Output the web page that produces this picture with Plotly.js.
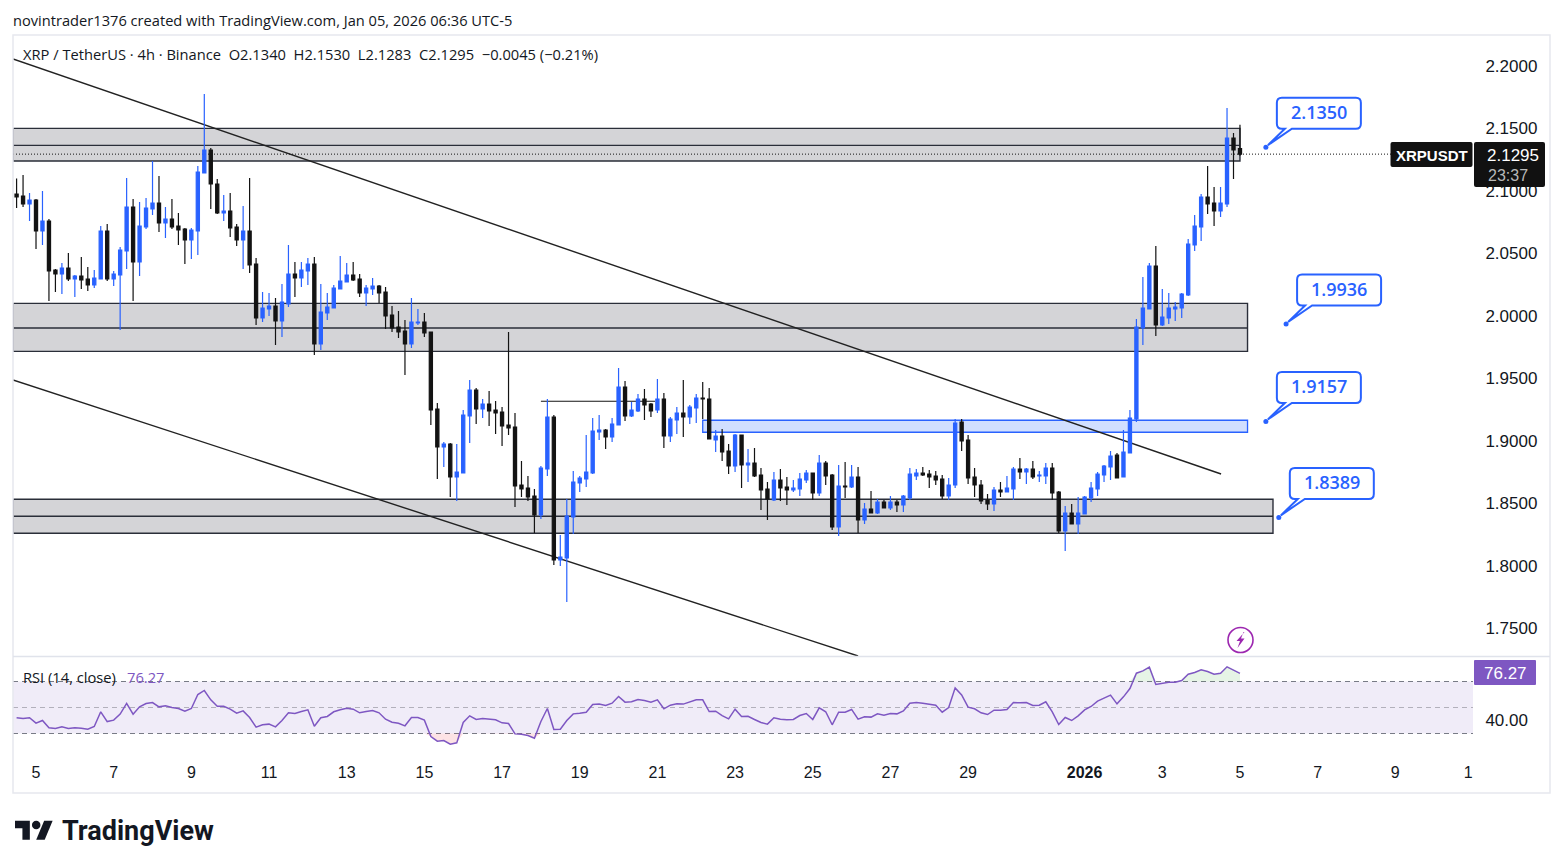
<!DOCTYPE html>
<html><head><meta charset="utf-8">
<script src="https://cdn.plot.ly/plotly-3.0.1.min.js"></script>
<style>html,body{margin:0;padding:0;background:#fff}#c{width:1563px;height:868px}</style>
</head><body><div id="c"></div>
<script>
const firstCandle = Date.UTC(2025,11,4,12,0);
const opens = [
2.0976,2.0960,2.0896,2.0928,2.0680,2.0760,2.0368,2.0336,2.0384,2.0296,
2.0320,2.0296,2.0248,2.0296,2.0680,2.0296,2.0328,2.0520,2.0872,2.0432,
2.0712,2.0856,2.0904,2.0744,2.0776,2.0720,2.0696,2.0608,2.0680,2.1144,
2.1328,2.1056,2.0824,2.0840,2.0712,2.0608,2.0680,2.0416,1.9984,2.0056,
2.0080,1.9960,2.0096,2.0336,2.0304,2.0360,2.0416,1.9776,2.0024,2.0064,
2.0216,2.0272,2.0328,2.0296,2.0184,2.0216,2.0240,2.0192,2.0008,1.9912,
1.9880,1.9776,1.9944,1.9952,1.9872,1.9256,1.8952,1.8976,1.8712,1.8744,
1.9200,1.9408,1.9256,1.9296,1.9248,1.9232,1.9128,1.9112,1.8648,1.8624,
1.8560,1.8408,1.8776,1.9192,1.8048,1.8064,1.8392,1.8664,1.8696,1.8744,
1.9072,1.9088,1.9032,1.9128,1.9432,1.9200,1.9240,1.9336,1.9296,1.9248,
1.9336,1.9040,1.9168,1.9224,1.9192,1.9264,1.9344,1.9336,1.9008,1.9040,
1.8920,1.8800,1.9048,1.8808,1.8824,1.8728,1.8616,1.8528,1.8688,1.8632,
1.8608,1.8616,1.8688,1.8744,1.8584,1.8824,1.8728,1.8312,1.8640,1.8632,
1.8712,1.8368,1.8456,1.8424,1.8512,1.8464,1.8512,1.8488,1.8544,1.8720,
1.8744,1.8736,1.8720,1.8696,1.8560,1.8648,1.9152,1.9008,1.8712,1.8648,
1.8528,1.8496,1.8608,1.8592,1.8616,1.8776,1.8752,1.8776,1.8720,1.8720,
1.8784,1.8592,1.8280,1.8424,1.8336,1.8416,1.8544,1.8616,1.8728,1.8792,
1.8888,1.8712,1.8904,1.9176,1.9904,2.0056,2.0400,1.9928,1.9984,2.0056,
2.0064,2.0168,2.0568,2.0712,2.0952,2.0904,2.0840,2.0896,2.1424,2.1340];
const highs = [
2.1101,2.1128,2.0984,2.0936,2.1000,2.0776,2.0376,2.0424,2.0504,2.0328,
2.0472,2.0392,2.0368,2.0720,2.0736,2.0360,2.0552,2.1104,2.0936,2.0912,
2.0944,2.1240,2.1120,2.0872,2.0936,2.0824,2.0704,2.0704,2.1200,2.1776,
2.1344,2.1096,2.0968,2.0984,2.0736,2.0880,2.1104,2.0464,2.0192,2.0184,
2.0144,2.0256,2.0568,2.0432,2.0432,2.0464,2.0472,2.0256,2.0184,2.0248,
2.0480,2.0424,2.0432,2.0336,2.0248,2.0304,2.0248,2.0232,2.0080,2.0040,
1.9968,2.0144,2.0056,2.0024,1.9872,1.9304,1.8992,1.8984,1.8976,1.9248,
1.9488,1.9424,1.9336,1.9400,1.9320,1.9272,1.9872,1.9224,1.8840,1.8720,
1.8616,1.8800,1.9336,1.9208,1.8248,1.8536,1.8760,1.8720,1.9048,1.9184,
1.9208,1.9096,1.9184,1.9584,1.9480,1.9312,1.9376,1.9416,1.9304,1.9496,
1.9384,1.9192,1.9272,1.9488,1.9288,1.9376,1.9472,1.9424,1.9088,1.9096,
1.8976,1.9056,1.9048,1.8936,1.8944,1.8784,1.8672,1.8752,1.8776,1.8712,
1.8688,1.8744,1.8768,1.8744,1.8888,1.8840,1.8736,1.8808,1.8832,1.8808,
1.8792,1.8504,1.8600,1.8536,1.8528,1.8560,1.8528,1.8568,1.8784,1.8776,
1.8792,1.8768,1.8760,1.8728,1.8704,1.9176,1.9176,1.9048,1.8784,1.8688,
1.8576,1.8632,1.8672,1.8720,1.8792,1.8864,1.8784,1.8840,1.8760,1.8824,
1.8824,1.8600,1.8480,1.8496,1.8552,1.8560,1.8672,1.8752,1.8808,1.8920,
1.8904,1.9088,1.9248,1.9976,2.0312,2.0424,2.0560,2.0216,2.0184,2.0112,
2.0184,2.0616,2.0808,2.0976,2.1200,2.1032,2.1032,2.1664,2.1464,2.1530];
const lows = [
2.0864,2.0872,2.0760,2.0536,2.0568,2.0120,2.0192,2.0176,2.0280,2.0152,
2.0216,2.0200,2.0224,2.0296,2.0280,2.0240,1.9888,2.0376,2.0120,2.0320,
2.0696,2.0808,2.0672,2.0624,2.0696,2.0568,2.0416,2.0456,2.0488,2.1144,
2.0856,2.0816,2.0760,2.0632,2.0560,2.0376,2.0344,1.9928,1.9952,2.0000,
1.9768,1.9832,2.0072,2.0152,2.0232,2.0248,1.9688,1.9728,1.9968,2.0064,
2.0216,2.0272,2.0280,2.0152,2.0080,2.0168,2.0104,1.9896,1.9872,1.9824,
1.9528,1.9744,1.9928,1.9832,1.9128,1.8696,1.8792,1.8552,1.8520,1.8744,
1.8984,1.9136,1.9184,1.9120,1.9056,1.8960,1.9048,1.8472,1.8552,1.8520,
1.8264,1.8376,1.8720,1.8008,1.8000,1.7712,1.8256,1.8592,1.8632,1.8736,
1.9008,1.8936,1.8992,1.9128,1.9160,1.9192,1.9232,1.9168,1.9192,1.9224,
1.8944,1.8992,1.9056,1.9032,1.9136,1.9144,1.9176,1.9016,1.8912,1.8840,
1.8736,1.8752,1.8624,1.8672,1.8712,1.8448,1.8368,1.8520,1.8520,1.8488,
1.8592,1.8560,1.8664,1.8528,1.8560,1.8648,1.8288,1.8240,1.8544,1.8624,
1.8264,1.8336,1.8424,1.8416,1.8464,1.8448,1.8432,1.8432,1.8528,1.8688,
1.8720,1.8624,1.8648,1.8536,1.8528,1.8624,1.8920,1.8656,1.8552,1.8496,
1.8448,1.8440,1.8552,1.8592,1.8528,1.8696,1.8656,1.8696,1.8672,1.8656,
1.8528,1.8264,1.8120,1.8336,1.8256,1.8416,1.8512,1.8560,1.8672,1.8688,
1.8704,1.8712,1.8904,1.9152,1.9768,2.0056,1.9840,1.9920,1.9936,1.9960,
1.9984,2.0160,2.0520,2.0600,2.0816,2.0720,2.0792,2.0872,2.1096,2.1283];
const closes = [
2.0952,2.0896,2.0928,2.0680,2.0760,2.0360,2.0336,2.0384,2.0296,2.0320,
2.0288,2.0248,2.0304,2.0680,2.0296,2.0336,2.0528,2.0872,2.0432,2.0720,
2.0864,2.0904,2.0744,2.0776,2.0712,2.0688,2.0608,2.0688,2.1152,2.1328,
2.1056,2.0824,2.0840,2.0704,2.0608,2.0680,2.0408,1.9984,2.0064,2.0080,
1.9960,2.0112,2.0336,2.0304,2.0368,2.0416,1.9776,2.0032,2.0072,2.0224,
2.0280,2.0328,2.0288,2.0184,2.0224,2.0240,2.0184,2.0000,1.9904,1.9872,
1.9776,1.9952,1.9952,1.9864,1.9248,1.8952,1.8976,1.8712,1.8752,1.9208,
1.9408,1.9256,1.9296,1.9240,1.9224,1.9120,1.9104,1.8640,1.8616,1.8552,
1.8408,1.8784,1.9192,1.8048,1.8072,1.8400,1.8672,1.8704,1.8752,1.9080,
1.9088,1.9032,1.9136,1.9432,1.9200,1.9248,1.9336,1.9288,1.9240,1.9336,
1.9040,1.9176,1.9224,1.9192,1.9272,1.9344,1.9336,1.9016,1.9040,1.8912,
1.8800,1.9048,1.8808,1.8824,1.8720,1.8608,1.8536,1.8688,1.8624,1.8608,
1.8624,1.8696,1.8744,1.8584,1.8824,1.8720,1.8312,1.8640,1.8632,1.8712,
1.8368,1.8456,1.8424,1.8512,1.8464,1.8512,1.8488,1.8560,1.8736,1.8744,
1.8728,1.8712,1.8688,1.8560,1.8648,1.9144,1.9000,1.8704,1.8648,1.8520,
1.8496,1.8608,1.8592,1.8624,1.8776,1.8752,1.8776,1.8712,1.8728,1.8784,
1.8584,1.8280,1.8424,1.8336,1.8424,1.8552,1.8624,1.8736,1.8800,1.8880,
1.8704,1.8912,1.9184,1.9912,2.0064,2.0400,1.9928,1.9992,2.0064,2.0072,
2.0176,2.0576,2.0720,2.0952,2.0896,2.0840,2.0904,2.1424,2.1328,2.1295];
const rsiValues = [
42.1,41.5,42.1,38,40,34.4,33.8,35.1,33.8,34.4,34.1,33.3,35.4,46.7,39.2,40.3,44.9,53.1,44.9,50.5,
53.1,53.8,50.5,51.3,50,49.2,47.2,49.2,60,63.1,55.9,51,51,48.7,45.6,47.4,42.3,34.9,36.7,37.2,
35.1,40,45.9,45.4,46.9,48.2,35.6,42.1,43.1,46.7,48.2,49.5,48.7,45.9,46.9,47.7,45.9,41,38.7,37.9,
35.9,42.3,42.3,40.3,27.7,24.1,24.6,21.8,22.8,38.5,43.6,40.8,41.5,41,40.5,38.2,37.7,29.7,29.5,28.5,
26.4,39.2,49.2,33.1,33.3,40,45.1,45.6,46.4,52.3,52.6,51.5,53.3,58.5,54.1,54.4,56.2,55.4,54.1,55.9,
49,51.8,52.8,52.6,54.4,55.9,55.9,46.9,47.2,43.8,41.3,48.7,43.1,43.3,40.8,38.5,37.2,42.1,41,40.5,
40.8,43.8,45.4,40.8,49.7,46.7,36.7,46.4,46.4,48.5,41,42.8,42.6,45.1,44.1,45.4,45.1,47.4,53.3,53.8,
53.3,52.8,51.8,46.4,50,65.1,59.7,50.3,49,45.9,44.6,47.9,47.9,48.5,53.8,53.6,53.8,51.5,51.8,54.4,
46.7,36.9,42.3,40,43.6,48.2,50.8,54.9,56.9,59.5,52.8,58.2,64.6,76.4,78.2,81,67.7,68.5,69.5,69.5,
70.8,75.6,76.9,79,77.7,75.6,76.4,81.3,79,76.27];
const tickDates = ["2025-12-05","2025-12-07","2025-12-09","2025-12-11","2025-12-13","2025-12-15","2025-12-17","2025-12-19","2025-12-21","2025-12-23","2025-12-25","2025-12-27","2025-12-29","2026-01-01","2026-01-03","2026-01-05","2026-01-07","2026-01-09","2026-01-10 21:00"];
const tickLabels = ["5","7","9","11","13","15","17","19","21","23","25","27","29","<b>2026</b>","3","5","7","9","1"];
const priceTicks = [1.75,1.80,1.85,1.90,1.95,2.00,2.05,2.10,2.15,2.20];
const zoneTops = [2.1501,2.0101,1.8534];
const zoneMids = [2.1365,1.9904,1.8398];
const zoneBottoms = [2.1240,1.9717,1.8262];
const zoneEnds = ["2026-01-05 00:00","2026-01-05 04:40","2026-01-05 20:24"];
const calloutPrices = [2.1350,1.9936,1.9157,1.8389];
const calloutDates = ["2026-01-05 16:00","2026-01-06 04:30","2026-01-05 16:00","2026-01-06 00:00"];
const calloutLabels = ["2.1350","1.9936","1.9157","1.8389"];
const lastPrice = 2.1295;

const BLUE='#2962ff', BLACK='#131313', INK='#131722', PURPLE='#7e57c2', FONT='"Open Sans", sans-serif', TICKFONT='"Liberation Sans", sans-serif';
const W=1563,H=868, L=13,R=1473;
const fx=p=>p/W, fy=p=>1-p/H;
const xStart="2025-12-04 09:47", xEnd="2026-01-11 00:00";
const dates=opens.map((_,i)=>new Date(firstCandle+i*4*3600e3).toISOString().slice(0,16).replace('T',' '));

const traces=[
 {type:'candlestick',x:dates,open:opens,high:highs,low:lows,close:closes,xaxis:'x',yaxis:'y',
  width:0.68*4*3600e3,whiskerwidth:0,hoverinfo:'skip',
  increasing:{line:{color:BLUE,width:1.2},fillcolor:BLUE},
  decreasing:{line:{color:BLACK,width:1.2},fillcolor:BLACK}},
 {type:'scatter',mode:'markers',x:calloutDates,y:calloutPrices,xaxis:'x',yaxis:'y',hoverinfo:'skip',
  marker:{size:5,color:BLUE}},
 {type:'scatter',mode:'lines',x:dates,y:dates.map(()=>70),xaxis:'x',yaxis:'y2',line:{width:0},hoverinfo:'skip'},
 {type:'scatter',mode:'lines',x:dates,y:rsiValues.map(v=>Math.max(v,70)),xaxis:'x',yaxis:'y2',line:{width:0},hoverinfo:'skip',
  fill:'tonexty',fillcolor:'rgba(76,175,80,0.14)'},
 {type:'scatter',mode:'lines',x:dates,y:dates.map(()=>30),xaxis:'x',yaxis:'y2',line:{width:0},hoverinfo:'skip'},
 {type:'scatter',mode:'lines',x:dates,y:rsiValues.map(v=>Math.min(v,30)),xaxis:'x',yaxis:'y2',line:{width:0},hoverinfo:'skip',
  fill:'tonexty',fillcolor:'rgba(242,54,69,0.14)'},
 {type:'scatter',mode:'lines',x:dates,y:rsiValues,xaxis:'x',yaxis:'y2',hoverinfo:'skip',line:{color:PURPLE,width:1.5}}
];

const shapes=[];
const ZONE_LINE={color:'#2a2e39',width:1.4};
zoneTops.forEach((t,i)=>{
 shapes.push({type:'rect',layer:'below',xref:'x',yref:'y',x0:xStart,x1:zoneEnds[i],y0:zoneBottoms[i],y1:t,fillcolor:'#d4d4d7',line:ZONE_LINE});
 shapes.push({type:'line',layer:'below',xref:'x',yref:'y',x0:xStart,x1:zoneEnds[i],y0:zoneMids[i],y1:zoneMids[i],line:ZONE_LINE});
});
shapes.push({type:'rect',layer:'below',xref:'x',yref:'y',x0:"2025-12-22 04:00",x1:"2026-01-05 04:40",y0:1.9070,y1:1.9166,fillcolor:'#d1dfff',line:{color:BLUE,width:1.3}});
shapes.push({type:'line',layer:'below',xref:'x',yref:'y',x0:"2025-12-18 00:00",x1:"2025-12-20 22:30",y0:1.9318,y1:1.9318,line:{color:BLACK,width:1.2}});
shapes.push({type:'line',layer:'below',xref:'x',yref:'y',x0:xStart,x1:"2026-01-04 12:20",y0:2.2056,y1:1.8736,line:{color:'#222',width:1.4}});
shapes.push({type:'line',layer:'below',xref:'x',yref:'y',x0:xStart,x1:"2025-12-26 04:00",y0:1.9488,y1:1.7280,line:{color:'#222',width:1.4}});
shapes.push({type:'line',layer:'below',xref:'x',yref:'y',x0:xStart,x1:"2026-01-09 12:00",y0:lastPrice,y1:lastPrice,line:{color:'#131313',width:1,dash:'1px,2px'}});
// RSI band
shapes.push({type:'rect',layer:'below',xref:'x',yref:'y2',x0:xStart,x1:xEnd,y0:30,y1:70,fillcolor:'rgba(126,87,194,0.115)',line:{width:0}});
[[70,'#787b86'],[50,'#b2b0bb'],[30,'#787b86']].forEach(([v,c])=>shapes.push({type:'line',layer:'below',xref:'x',yref:'y2',x0:xStart,x1:xEnd,y0:v,y1:v,line:{color:c,width:1.2,dash:'5px,4px'}}));
// frame
shapes.push({type:'rect',xref:'paper',yref:'paper',x0:fx(13),x1:fx(1550),y0:fy(793),y1:fy(35),line:{color:'#e6e8ee',width:1.5}});
shapes.push({type:'line',xref:'paper',yref:'paper',x0:fx(13),x1:fx(1550),y0:fy(656.5),y1:fy(656.5),line:{color:'#e0e3eb',width:1.5}});
// callouts, pixels relative to the dot
calloutPrices.forEach((p,i)=>shapes.push({type:'path',xref:'x',yref:'y',xsizemode:'pixel',ysizemode:'pixel',xanchor:calloutDates[i],yanchor:p,
 path:'M 26 18.5 H 90 Q 95 18.5 95 23.5 V 44.5 Q 95 49.5 90 49.5 H 16 Q 11 49.5 11 44.5 V 23.5 Q 11 18.5 16 18.5 H 19 L 2 2 Z',
 fillcolor:'#fff',line:{color:BLUE,width:2}}));
// price tags
const rr=(x0,y0,x1,y1,r)=>`M ${fx(x0+r)} ${fy(y0)} L ${fx(x1-r)} ${fy(y0)} Q ${fx(x1)} ${fy(y0)} ${fx(x1)} ${fy(y0+r)} L ${fx(x1)} ${fy(y1-r)} Q ${fx(x1)} ${fy(y1)} ${fx(x1-r)} ${fy(y1)} L ${fx(x0+r)} ${fy(y1)} Q ${fx(x0)} ${fy(y1)} ${fx(x0)} ${fy(y1-r)} L ${fx(x0)} ${fy(y0+r)} Q ${fx(x0)} ${fy(y0)} ${fx(x0+r)} ${fy(y0)} Z`;
const pap=(path,fill)=>({type:'path',xref:'paper',yref:'paper',path,fillcolor:fill,line:{width:0}});
shapes.push(pap(rr(1390.5,142,1472.5,167,2),'#111'));
shapes.push(pap(rr(1474,142,1545,187,2),'#111'));
shapes.push(pap(rr(1474,660,1536,685,1),'#7e57c2'));
// lightning icon
shapes.push({type:'circle',xref:'paper',yref:'paper',x0:fx(1228),x1:fx(1253),y0:fy(652.5),y1:fy(627.5),fillcolor:'#fff',line:{color:'#9c27b0',width:1.6}});
const poly=(pts,ox,oy,s)=>'M '+pts.map(([a,b])=>`${fx(ox+a*s)} ${fy(oy+b*s)}`).join(' L ')+' Z';
shapes.push(pap(poly([[4,-8],[-4,1],[-0.5,1],[-3,8],[4,-1.5],[0.5,-1.5],[3,-8]],1240.5,640,1),'#9c27b0'));
// logo
const logoX=15,logoY=816.5,ls=1.06;
shapes.push(pap(poly([[14,22],[7,22],[7,11],[0,11],[0,4],[14,4]],logoX,logoY,ls),'#131722'));
shapes.push(pap(poly([[28,22],[20,22],[27.5,4],[35.5,4]],logoX,logoY,ls),'#131722'));
shapes.push({type:'circle',xref:'paper',yref:'paper',x0:fx(logoX+16*ls),x1:fx(logoX+24*ls),y0:fy(logoY+12*ls),y1:fy(logoY+4*ls),fillcolor:'#131722',line:{width:0}});

const txt=(text,x,y,size,color,anchor='left',extra={})=>({xref:'paper',yref:'paper',x:fx(x),y:fy(y),text,showarrow:false,xanchor:anchor,yanchor:'middle',borderpad:0,borderwidth:0,font:{family:FONT,size,color},...extra});
const annotations=[
 txt('novintrader1376 created with TradingView.com, Jan 05, 2026 06:36 UTC-5',13,19.5,14.65,INK),
 txt('XRP / TetherUS · 4h · Binance&nbsp;&nbsp;O2.1340&nbsp;&nbsp;H2.1530&nbsp;&nbsp;L2.1283&nbsp;&nbsp;C2.1295&nbsp;&nbsp;−0.0045 (−0.21%)',23,53.5,14.7,INK),
 txt('RSI (14, close)',23,677,14.7,INK),
 txt('76.27',127,677,14.7,PURPLE),
 txt('XRPUSDT',1431.5,155,15,'#fff','center',{font:{family:TICKFONT,size:15,color:'#fff',weight:600}}),
 txt(lastPrice.toFixed(4),1512.5,155,16,'#fff','center',{font:{family:TICKFONT,size:17,color:'#fff'}}),
 txt('23:37',1508,175,16,'#b8b8b8','center',{font:{family:TICKFONT,size:16,color:'#b8b8b8'}}),
 txt('76.27',1505,673,16,'#fff','center',{font:{family:TICKFONT,size:17,color:'#fff'}}),
 txt('<b>TradingView</b>',62,831,27,'#131722','left',{font:{family:'Roboto, sans-serif',size:27,color:'#131722'}})
];
calloutPrices.forEach((p,i)=>annotations.push({xref:'x',yref:'y',x:calloutDates[i],y:p,xshift:53,yshift:35,text:calloutLabels[i],showarrow:false,xanchor:'center',yanchor:'middle',font:{family:FONT,size:18,color:BLUE,weight:600}}));

const layout={
 width:W,height:H,margin:{l:0,r:0,t:0,b:0},paper_bgcolor:'#fff',plot_bgcolor:'rgba(0,0,0,0)',showlegend:false,
 xaxis:{domain:[fx(L),fx(R)],type:'date',range:[xStart,xEnd],anchor:'y2',rangeslider:{visible:false},showgrid:false,zeroline:false,showline:false,
  tickmode:'array',tickvals:tickDates,ticktext:tickLabels,ticks:'outside',ticklen:5,tickcolor:'rgba(0,0,0,0)',tickfont:{family:TICKFONT,size:16,color:INK}},
 yaxis:{domain:[fy(656),fy(35)],range:[1.728,2.2248],anchor:'x',side:'right',showgrid:false,zeroline:false,showline:false,
  tickmode:'array',tickvals:priceTicks,ticktext:priceTicks.map(v=>v.toFixed(4)),ticks:'outside',ticklen:8,tickcolor:'rgba(0,0,0,0)',tickfont:{family:TICKFONT,size:17,color:INK}},
 yaxis2:{domain:[fy(753),fy(657)],range:[15,88.85],anchor:'x',side:'right',showgrid:false,zeroline:false,showline:false,
  tickmode:'array',tickvals:[40],ticktext:['40.00'],ticks:'outside',ticklen:8,tickcolor:'rgba(0,0,0,0)',tickfont:{family:TICKFONT,size:17,color:INK}},
 shapes,annotations
};
Plotly.newPlot('c',traces,layout,{displayModeBar:false,staticPlot:true});
</script></body></html>
